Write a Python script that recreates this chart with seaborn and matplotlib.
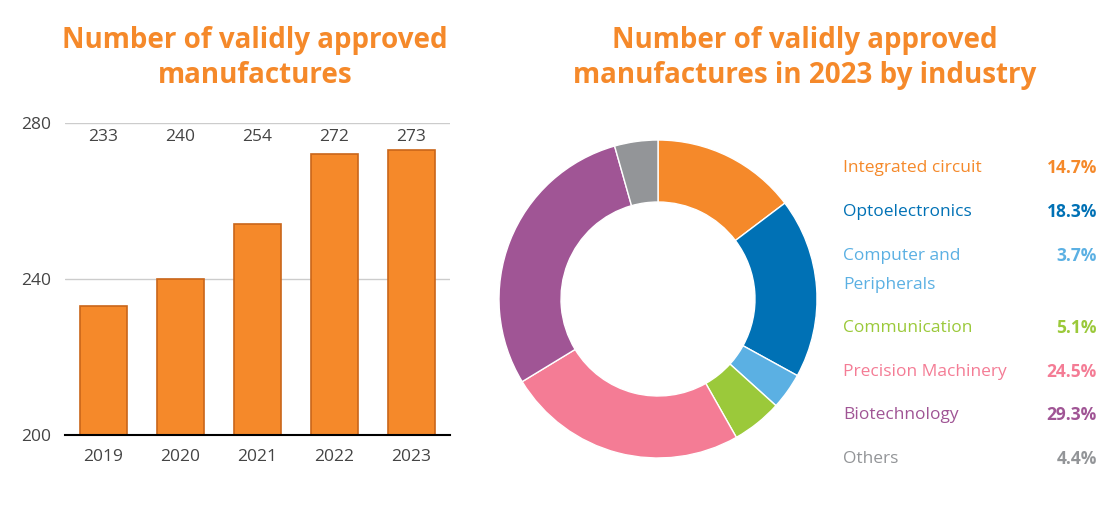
import matplotlib
matplotlib.use("Agg")
import matplotlib.pyplot as plt
import seaborn as sns
import pandas as pd

years = ["2019", "2020", "2021", "2022", "2023"]
counts = [233, 240, 254, 272, 273]
industries = ["Integrated circuit", "Optoelectronics", "Computer and\nPeripherals",
              "Communication", "Precision Machinery", "Biotechnology", "Others"]
shares = [14.7, 18.3, 3.7, 5.1, 24.5, 29.3, 4.4]
colors = ["#F5892A", "#0071B5", "#5BB0E3", "#9BC93A", "#F47C95", "#A05595", "#939598"]

sns.set_theme(style="white")
plt.rcParams['font.family'] = ['Open Sans', 'DejaVu Sans']

fig = plt.figure(figsize=(11.18, 5.19), dpi=100)
ORANGE = "#F5892A"

# Bar chart
ax = fig.add_axes([65/1118, 1-435/519, 385/1118, (435-123)/519])
df = pd.DataFrame({"year": years, "count": counts})
sns.barplot(data=df, x="year", y="count", color=ORANGE, saturation=1, width=0.62, ax=ax,
            edgecolor="#C9661A", linewidth=1.2)
ax.set_ylim(200, 280)
ax.set_yticks([200, 240, 280])
ax.grid(axis="y", color="#CCCCCC", lw=1)
ax.set_axisbelow(True)
for s in ["top", "right", "left"]:
    ax.spines[s].set_visible(False)
ax.spines["bottom"].set_color("black")
ax.spines["bottom"].set_linewidth(1.5)
ax.set_xlabel(""); ax.set_ylabel("")
ax.tick_params(axis="both", labelsize=12.5, colors="#444444", length=0, pad=10)
ax.tick_params(axis="y", pad=10)
for i, v in enumerate(counts):
    ax.text(i, 276.5, str(v), ha="center", va="center", fontsize=12.5, color="#444444")
fig.text(255/1118, 1-58/519, "Number of validly approved\nmanufactures", ha="center", va="center",
         fontsize=20, fontweight="bold", color=ORANGE, linespacing=1.25)

# Donut
R = 159
ax2 = fig.add_axes([(658-R)/1118, 1-(299+R)/519, 2*R/1118, 2*R/519])
ax2.pie(shares, colors=colors, startangle=90, counterclock=False, radius=1,
        wedgeprops=dict(width=0.39, edgecolor="white", linewidth=1))
ax2.set_xlim(-1, 1); ax2.set_ylim(-1, 1)
ax2.set_aspect("equal")
ax2.axis("off")
fig.text(805/1118, 1-58/519, "Number of validly approved\nmanufactures in 2023 by industry",
         ha="center", va="center", fontsize=20, fontweight="bold", color=ORANGE, linespacing=1.25)

ys = [168, 212, 256, 328, 372, 415, 459]
for name, s, c, y in zip(industries, shares, colors, ys):
    lines = name.split("\n")
    for k, ln in enumerate(lines):
        fig.text(843/1118, 1-(y+29*k)/519, ln, ha="left", va="center", fontsize=12.5, color=c)
    fig.text(1097/1118, 1-y/519, f"{s}%", ha="right", va="center", fontsize=12.5,
             color=c, fontweight="bold")

fig.savefig("out.png", dpi=100)
